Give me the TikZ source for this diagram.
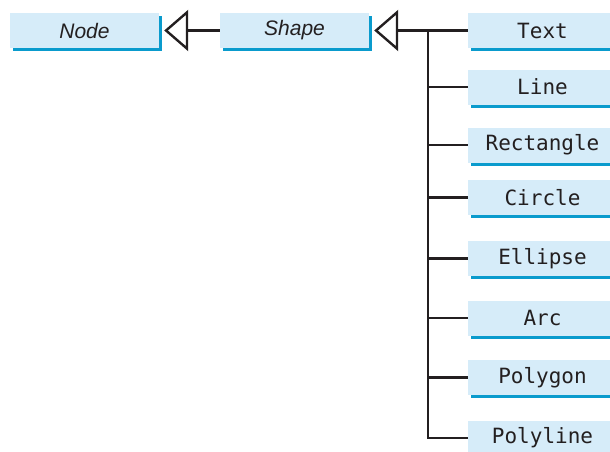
\documentclass[tikz,border=0pt]{standalone}
\usepackage{fontspec}
\usepackage{tikz}
\usetikzlibrary{arrows.meta,shadows,calc,positioning}
\newfontfamily\classsans{Liberation Sans}
\newfontfamily\classmono{DejaVu Sans Mono}
\definecolor{boxfill}{HTML}{D6ECF9}
\definecolor{boxshade}{HTML}{0A9BCD}
\definecolor{inkline}{HTML}{231F20}
\tikzset{
  classbox/.style={rectangle,fill=boxfill,minimum width=149pt,minimum height=35pt,
    inner sep=0pt,text=inkline,
    general shadow={shadow xshift=3pt,shadow yshift=-3pt,fill=boxshade}},
  abstractbox/.style={classbox,font=\classsans\itshape\fontsize{21}{24}\selectfont},
  concretebox/.style={classbox,font=\classmono\fontsize{21}{24}\selectfont},
  link/.style={draw=inkline,line width=2.4pt},
  inherit/.style={link,-{Triangle[open,length=24pt,width=41pt]}}
}
\begin{document}
\begin{tikzpicture}[x=1pt,y=-1pt]
    \useasboundingbox (0,0) rectangle (610,452);
    \clip (0,0) rectangle (610,452);
    % abstract classes
    \node[abstractbox] (node) at (84.5,30.5) {Node};
    \node[abstractbox] (shape) at (294.5,30.5) {Shape};
    % subclasses of Shape
    \node[concretebox] (text) at (542.5,30.5) {Text};
    \node[concretebox] (line) at (542.5,87) {Line};
    \node[concretebox] (rect) at (542.5,145) {Rectangle};
    \node[concretebox] (circle) at (542.5,197.5) {Circle};
    \node[concretebox] (ellipse) at (542.5,258.5) {Ellipse};
    \node[concretebox] (arc) at (542.5,318) {Arc};
    \node[concretebox] (polygon) at (542.5,377.5) {Polygon};
    \node[concretebox] (polyline) at (542.5,438) {Polyline};
    \coordinate (trunk) at (428,30.5);
    \coordinate (nodetip) at ($(node.east)+(5,0)$);
    \coordinate (shapetip) at ($(shape.east)+(5,0)$);
    \draw[inherit] (shape.west) -- (nodetip);
    \draw[inherit] (text.west) -- (shapetip);
    \draw[link] (trunk) |- (polyline.west);
    \foreach \sub in {line,rect,circle,ellipse,arc,polygon}
      \draw[link] (trunk |- \sub.west) -- (\sub.west);
\end{tikzpicture}
\end{document}
